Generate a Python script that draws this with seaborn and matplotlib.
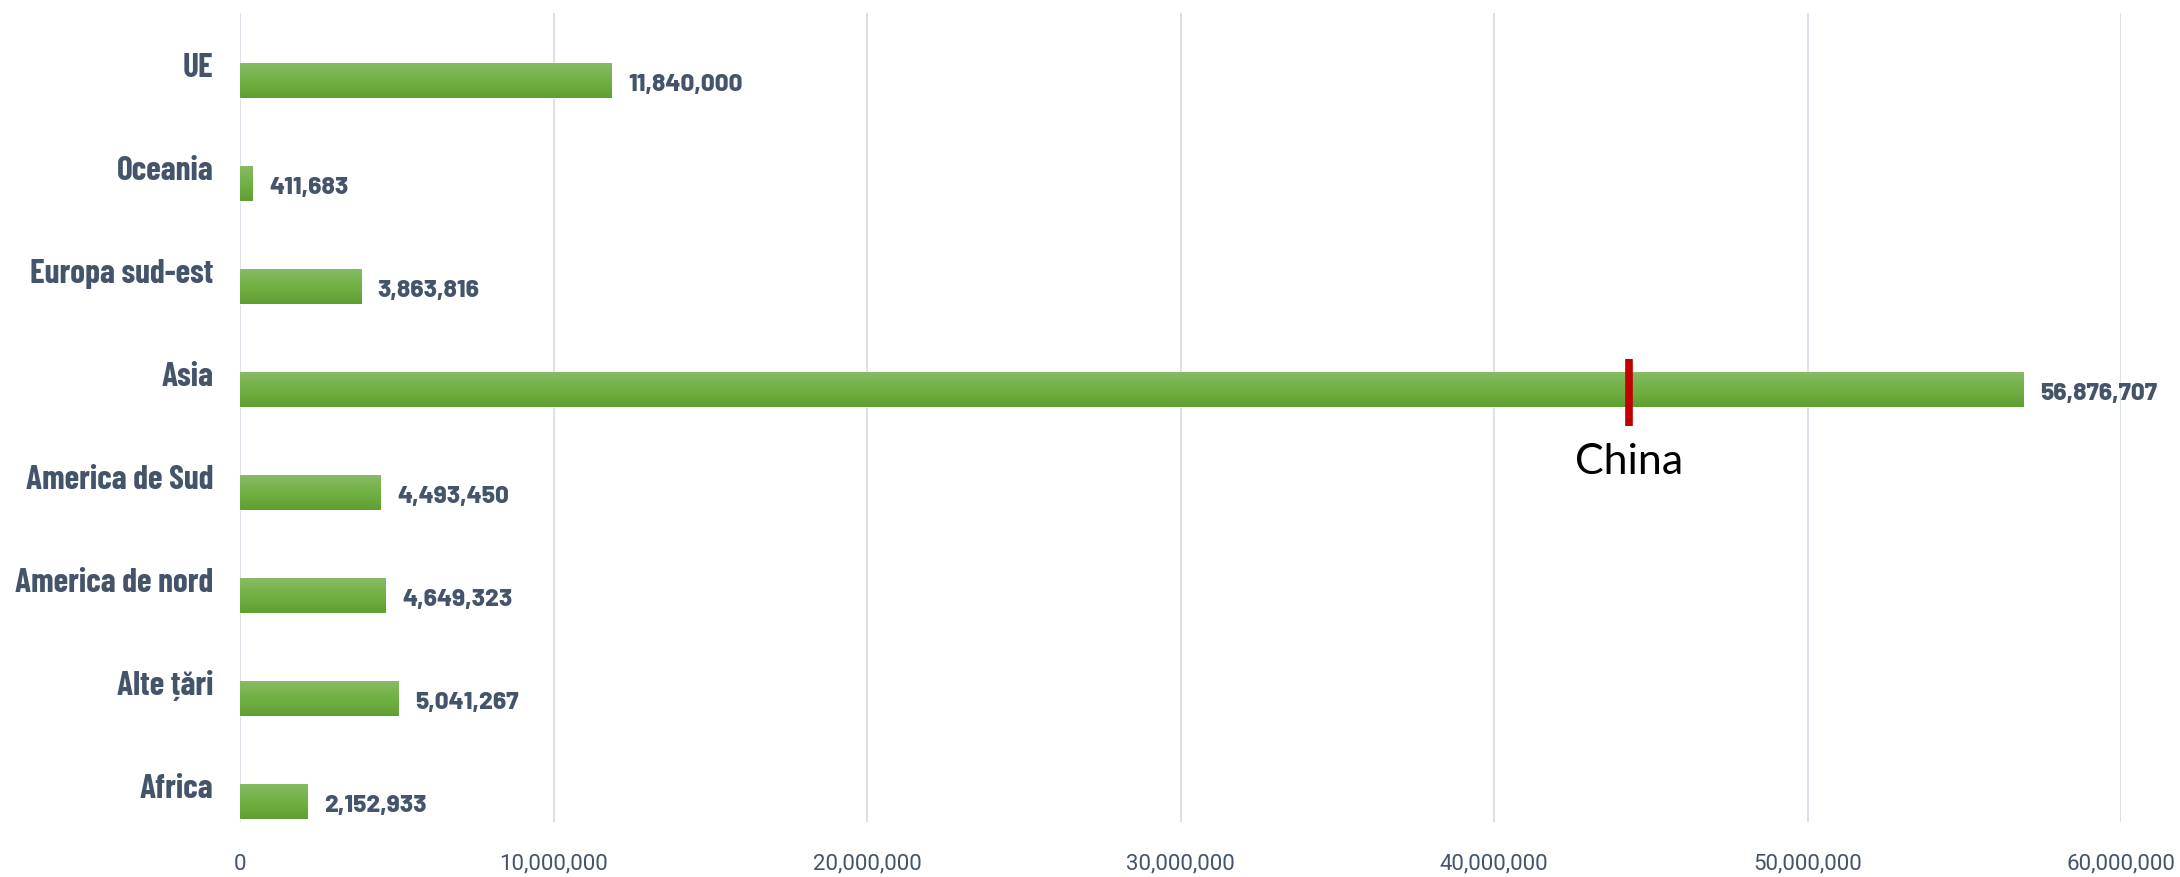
import numpy as np
import pandas as pd
import matplotlib
matplotlib.use('Agg')
import matplotlib.pyplot as plt
import matplotlib.transforms as mtransforms
from matplotlib.colors import LinearSegmentedColormap
import seaborn as sns

# Data (top to bottom)
regions = ['UE', 'Oceania', 'Europa sud-est', 'Asia', 'America de Sud',
           'America de nord', 'Alte țări', 'Africa']
values = [11840000, 411683, 3863816, 56876707, 4493450, 4649323, 5041267, 2152933]
x_ticks = [0, 10000000, 20000000, 30000000, 40000000, 50000000, 60000000]
china_region = 'Asia'
china_value = 44300000
china_label = 'China'

df = pd.DataFrame({'region': regions, 'value': values})

sns.set_theme(style='white')
plt.rcParams['font.family'] = ['Roboto', 'DejaVu Sans']

label_color = '#44546A'
grid_color = '#DCE1E8'

fig = plt.figure(figsize=(21.8, 8.78), dpi=100)
ax = fig.add_axes([240 / 2180, 1 - 823 / 878, (2121 - 240) / 2180, (823 - 14) / 878])

sns.barplot(data=df, x='value', y='region', orient='h', width=0.34,
            color='#72B043', ax=ax, zorder=2)

# vertical gradient on each bar, light on top, darker at the bottom
cmap = LinearSegmentedColormap.from_list('bar_grad', ['#86BB64', '#72B043', '#5F9F31'])
grad = np.linspace(0, 1, 100).reshape(-1, 1)
for patch in ax.patches:
    x0, y0 = patch.get_x(), patch.get_y()
    w, h = patch.get_width(), patch.get_height()
    ax.imshow(grad, extent=[x0, x0 + w, y0 + h, y0], aspect='auto', cmap=cmap,
              origin='upper', zorder=3, interpolation='bicubic')

ax.set_xlim(0, 60000000)
ax.set_ylim(7.2, -0.66)

# value labels next to each bar
for i, v in enumerate(values):
    ax.annotate(f'{v:,}', xy=(v, i), xytext=(12, -2.5), textcoords='offset points',
                va='center', ha='left', fontsize=17.5, fontweight=800,
                family=['Barlow', 'DejaVu Sans'],
                color=label_color, zorder=5)

# China marker inside the Asia bar
yi = regions.index(china_region)
ax.plot([china_value, china_value], [yi - 0.3, yi + 0.35], color='#C00000',
        lw=5.5, solid_capstyle='butt', zorder=6)
ax.text(china_value, yi + 0.69, china_label, ha='center', va='center',
        fontsize=31, color='black', family=['Lato', 'DejaVu Sans'], zorder=6)

ax.set_xticks(x_ticks)
ax.set_xticklabels([f'{t:,}' for t in x_ticks], fontsize=16, color=label_color)
ax.tick_params(axis='x', length=0, pad=22)
ax.tick_params(axis='y', length=0, pad=19)
for lbl in ax.get_yticklabels():
    lbl.set_fontsize(24)
    lbl.set_fontweight('bold')
    lbl.set_family(['Barlow Condensed', 'DejaVu Sans'])
    lbl.set_color(label_color)
    lbl.set_transform(lbl.get_transform() +
                      mtransforms.ScaledTranslation(0, 12 / 72, fig.dpi_scale_trans))

ax.set_xlabel('')
ax.set_ylabel('')
ax.grid(axis='x', color=grid_color, lw=1.4)
ax.set_axisbelow(True)
for s in ax.spines.values():
    s.set_visible(False)

fig.savefig('out.png', dpi=100)
